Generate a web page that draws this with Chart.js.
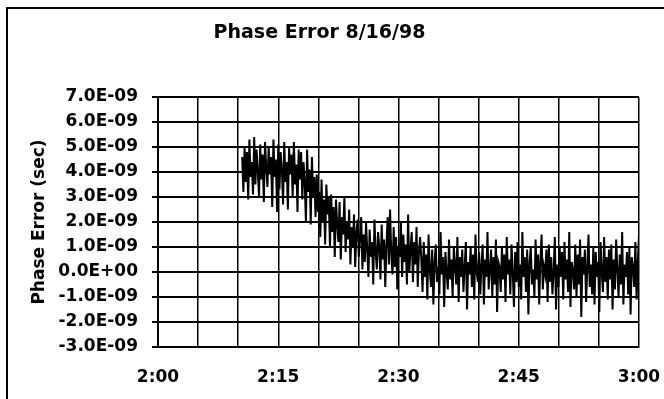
<!DOCTYPE html>
<html>
<head>
<meta charset="utf-8">
<script src="https://cdn.jsdelivr.net/npm/chart.js@4/dist/chart.umd.min.js"></script>
<style>
  html, body { margin: 0; padding: 0; background: #fff; }
  #wrap { width: 664px; height: 399px; }
</style>
</head>
<body>
<div id="wrap"><canvas id="c" width="664" height="399"></canvas></div>
<script>
// Chart text
const chartTitle = 'Phase Error 8/16/98';
const yAxisTitle = 'Phase Error (sec)';

// X axis: minutes after 2:00
const xTickValues = [0, 15, 30, 45, 60];
const xTickLabels = ['2:00', '2:15', '2:30', '2:45', '3:00'];

// Y axis: tick values (ns) and their labels (sec)
const yTickValues = [7, 6, 5, 4, 3, 2, 1, 0, -1, -2, -3];
const yTickLabels = ['7.0E-09', '6.0E-09', '5.0E-09', '4.0E-09', '3.0E-09', '2.0E-09',
                     '1.0E-09', '0.0E+00', '-1.0E-09', '-2.0E-09', '-3.0E-09'];

// Sampling: first and last sample time (minutes after 2:00)
const firstSampleMinute = 10.5;
const lastSampleMinute = 60;

// Phase error samples, in nanoseconds
const phaseErrorNs = [
  4.6, 3.2, 5.0, 3.6, 4.8, 2.9, 5.3, 3.8, 4.4, 3.1,
  5.4, 3.5, 4.9, 4.0, 3.0, 5.1, 3.7, 4.7, 2.8, 5.2,
  4.2, 3.4, 5.0, 3.9,
  4.6, 2.6, 5.3, 3.8, 4.5, 2.4, 5.1, 3.3, 4.8, 4.1,
  2.7, 5.2, 3.6, 4.4, 2.5, 5.0, 3.9, 4.7, 3.0, 5.2,
  3.5, 4.3, 2.4, 4.9, 3.7,
  4.8, 2.9, 4.4, 3.6, 2.0, 4.9, 3.2, 4.1, 1.9, 4.6,
  3.0, 3.8, 2.2,
  3.9, 2.4, 3.2, 1.4, 3.7, 2.0, 2.9, 1.1, 3.5, 2.3,
  3.0, 1.0,
  3.1, 1.6, 2.6, 0.6, 2.9, 1.9, 1.2, 2.8, 0.5, 2.2,
  1.5, 3.0, 0.8, 2.0, 1.3, 2.5, 0.3, 1.8, 1.0, 2.3,
  0.2, 1.6, 2.1, 0.6, 1.4, 2.2, 0.1,
  1.5, 0.4, 2.0, 0.9, -0.2, 1.7, 0.6, 1.2, -0.5, 2.1,
  0.8, 0.1, 1.6, 1.0, -0.3, 1.9, 0.5, 1.3, -0.6, 1.1,
  2.2, 0.3, 2.5, 0.7, -0.1, 1.8, 0.2, 1.4, -0.7, 1.0,
  0.6, 2.0, -0.2, 1.5, 0.4, 1.1, -0.5, 2.3, 0.0, 0.9,
  1.6, -0.4, 1.2, 0.3, 1.8, -0.6, 0.8, 1.4,
  0.5, -0.8, 1.2, -0.2, 0.7, -1.1, 1.5, 0.1, -0.6, 0.9,
  -1.3, 0.4, 1.1, -0.4, 0.2, -0.9, 1.6, -0.1, 0.6, -1.4,
  0.8, 0.0, -0.7, 1.3, -0.3, 0.5, -1.0, 1.0, 0.3, -0.5,
  1.4, -1.2, 0.6, -0.2, 0.9, -0.8, 0.2, 1.2, -1.5, 0.4,
  -0.1, 1.0, -0.6, 0.7, -1.1, 1.5, 0.0, -0.4, 0.8, -0.9,
  0.3, 1.1, -1.3, 0.5, -0.2, 1.6, -0.7, 0.1, 0.9, -1.0,
  0.6, -0.5, 1.3, -1.6, 0.4, 0.2, -0.8, 1.0, -0.3, 0.7,
  -1.2, 1.4, -0.1, 0.5, -0.9, 1.1, 0.0, -1.4, 0.8, -0.4,
  1.2, -0.6, 0.3, -1.1, 1.6, -0.2, 0.6, -0.8, 0.9, -1.7,
  0.4, 1.0, -0.5, 0.1, -1.0, 1.3, -0.3, 0.7, -1.3, 0.5,
  1.5, -0.7, 0.2, -0.1, 0.9, -1.2, 1.1, -0.4, 0.6, -0.9,
  0.0, 1.4, -1.5, 0.3, -0.6, 1.0, -0.2, 0.8, -1.1, 1.2,
  -0.3, 0.5, -0.8, 1.6, -1.4, 0.4, 0.1, -0.7, 1.1, -1.0,
  0.7, -0.5, 1.3, -1.8, 0.6, -0.1, 0.9, -1.2, 0.2, 1.5,
  -0.6, 0.3, -0.9, 1.0, -1.3, 0.8, -0.2, 0.4, -1.6, 1.2,
  0.0, -0.8, 1.4, -0.4, 0.6, -1.1, 0.9, -0.3, 1.1, -1.5,
  0.5, -0.7, 1.3, 0.1, -1.0, 0.7, -0.5, 1.6, -1.3, 0.3,
  -0.2, 0.8, -0.9, 1.0, -1.7, 0.6, 0.2, -0.6, 1.2, -1.1,
  0.4, 1.5
];

// Evenly spaced sample times
const sampleStep = (lastSampleMinute - firstSampleMinute) / (phaseErrorNs.length - 1);
const points = phaseErrorNs.map((v, i) => ({ x: firstSampleMinute + i * sampleStep, y: v }));

const FONT = 'DejaVu Sans';

const framePlugin = {
  id: 'frame',
  beforeDraw(chart) {
    const ctx = chart.ctx;
    ctx.save();
    ctx.fillStyle = '#fff';
    ctx.fillRect(0, 0, chart.width, chart.height);
    ctx.restore();
  },
  afterDraw(chart) {
    const ctx = chart.ctx;
    ctx.save();
    ctx.strokeStyle = '#000';
    ctx.lineWidth = 2;
    ctx.beginPath();
    ctx.moveTo(7, 399);
    ctx.lineTo(7, 8);
    ctx.lineTo(664, 8);
    ctx.stroke();
    ctx.restore();
  }
};

new Chart(document.getElementById('c'), {
  type: 'line',
  data: {
    datasets: [{
      data: points,
      borderColor: '#000',
      borderWidth: 2,
      pointRadius: 0,
      tension: 0,
      fill: false
    }]
  },
  options: {
    responsive: false,
    animation: false,
    devicePixelRatio: 1,
    layout: { padding: { left: 0, right: 25, top: 0, bottom: 0 } },
    plugins: {
      legend: { display: false },
      tooltip: { enabled: false },
      title: {
        display: true,
        text: chartTitle,
        color: '#000',
        font: { family: FONT, size: 19, weight: 'bold' },
        padding: { top: 21.6, bottom: 52.6 }
      }
    },
    scales: {
      x: {
        type: 'linear',
        min: 0,
        max: 60,
        afterFit(s) { s.height = 52; s.paddingLeft = 0; s.paddingRight = 0; },
        afterBuildTicks(s) {
          s.ticks = [];
          for (let v = 0; v <= 60; v += 5) s.ticks.push({ value: v });
        },
        ticks: {
          autoSkip: false,
          maxRotation: 0,
          color: '#000',
          padding: 20,
          font: { family: FONT, size: 17, weight: 'bold' },
          callback(v) {
            const k = xTickValues.indexOf(v);
            return k >= 0 ? xTickLabels[k] : '';
          }
        },
        grid: { color: '#000', lineWidth: 1.5, drawTicks: false },
        border: { color: '#000', width: 2 }
      },
      y: {
        type: 'linear',
        min: -3,
        max: 7,
        afterFit(s) { s.width = 158; },
        afterBuildTicks(s) {
          s.ticks = yTickValues.slice().reverse().map(v => ({ value: v }));
        },
        ticks: {
          autoSkip: false,
          color: '#000',
          padding: 14,
          font: { family: FONT, size: 17, weight: 'bold' },
          callback(v) {
            const k = yTickValues.indexOf(v);
            return k >= 0 ? yTickLabels[k] : '';
          }
        },
        grid: { color: '#000', lineWidth: 2, tickLength: 6 },
        border: { color: '#000', width: 2 },
        title: {
          display: true,
          text: yAxisTitle,
          color: '#000',
          font: { family: FONT, size: 17, weight: 'bold' },
          padding: { top: 29, bottom: 0 }
        }
      }
    }
  },
  plugins: [framePlugin]
});
</script>
</body>
</html>
